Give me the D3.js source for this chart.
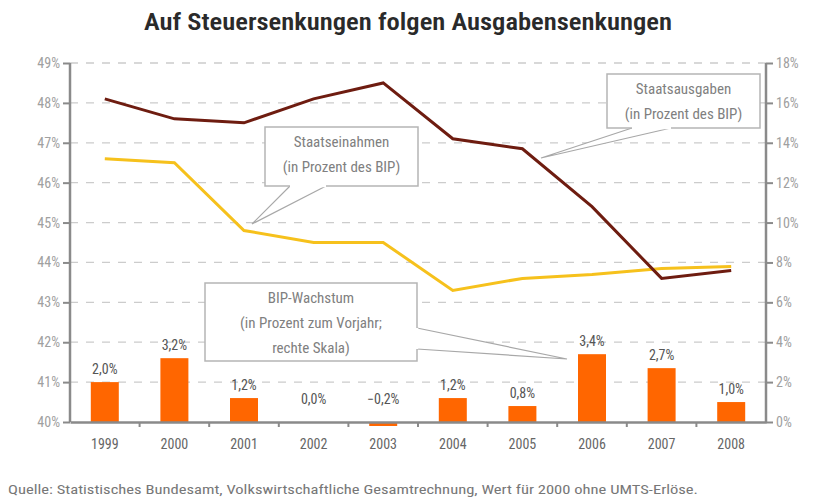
<!DOCTYPE html>
<html>
<head>
<meta charset="utf-8">
<script src="https://cdn.jsdelivr.net/npm/d3@7"></script>
<style>
  body { margin: 0; background: #fff; }
  text { font-family: "Liberation Sans Narrow", "Roboto Condensed", "Open Sans", sans-serif; }
</style>
</head>
<body>
<svg id="chart" width="814" height="501"></svg>
<script>
var years = ["1999", "2000", "2001", "2002", "2003", "2004", "2005", "2006", "2007", "2008"]
var ausgaben = [48.1, 47.6, 47.5, 48.1, 48.5, 47.1, 46.85, 45.4, 43.6, 43.8]
var einnahmen = [46.6, 46.5, 44.8, 44.5, 44.5, 43.3, 43.6, 43.7, 43.85, 43.9]
var wachstum = [2.0, 3.2, 1.2, 0.0, -0.2, 1.2, 0.8, 3.4, 2.7, 1.0]
var leftTicks = [40, 41, 42, 43, 44, 45, 46, 47, 48, 49]
var rightTicks = [0, 2, 4, 6, 8, 10, 12, 14, 16, 18]

var dimensions = {
    width: 814,
    height: 501,
    margin: { top: 63, bottom: 79, left: 70, right: 48 }
}

var svg = d3.select("#chart")

var xScale = d3.scaleBand()
    .domain(years)
    .range([dimensions.margin.left, dimensions.width - dimensions.margin.right])

var yLeft = d3.scaleLinear()
    .domain([40, 49])
    .range([dimensions.height - dimensions.margin.bottom, dimensions.margin.top])

var yRight = d3.scaleLinear()
    .domain([0, 18])
    .range([dimensions.height - dimensions.margin.bottom, dimensions.margin.top])

var fmt = d => d3.format(".1f")(d).replace(".", ",") + "%"

// title
svg.append("text")
    .attr("x", 408)
    .attr("y", 30)
    .attr("text-anchor", "middle")
    .attr("textLength", 528)
    .attr("lengthAdjust", "spacingAndGlyphs")
    .style("font-size", "23px")
    .style("font-weight", "600")
    .attr("fill", "#2a2a2a")
    .text("Auf Steuersenkungen folgen Ausgabensenkungen")

// grid
svg.append("g")
    .selectAll("line")
    .data(leftTicks.slice(1))
    .enter()
    .append("line")
    .attr("x1", dimensions.margin.left)
    .attr("x2", dimensions.width - dimensions.margin.right)
    .attr("y1", d => yLeft(d))
    .attr("y2", d => yLeft(d))
    .attr("stroke", "#cccccc")
    .attr("stroke-width", 1.3)
    .attr("stroke-dasharray", "8,8")

// bars
svg.append("g")
    .selectAll("rect")
    .data(wachstum)
    .enter()
    .append("rect")
    .attr("x", (d, i) => xScale(years[i]) + xScale.bandwidth() / 2 - 14)
    .attr("width", 28)
    .attr("y", d => yRight(Math.max(d, 0)))
    .attr("height", d => Math.abs(yRight(d) - yRight(0)))
    .attr("fill", "#ff6600")

svg.append("g")
    .selectAll("text")
    .data(wachstum)
    .enter()
    .append("text")
    .attr("x", (d, i) => xScale(years[i]) + xScale.bandwidth() / 2)
    .attr("y", d => yRight(Math.max(d, 0.5)) - 8)
    .attr("text-anchor", "middle")
    .style("font-size", "14px")
    .attr("fill", "#555")
    .text(d => fmt(d))

// lines
var lineLeft = d3.line()
    .x((d, i) => xScale(years[i]) + xScale.bandwidth() / 2)
    .y(d => yLeft(d))

svg.append("path")
    .datum(einnahmen)
    .attr("d", lineLeft)
    .attr("fill", "none")
    .attr("stroke", "#f6c11c")
    .attr("stroke-width", 3)

svg.append("path")
    .datum(ausgaben)
    .attr("d", lineLeft)
    .attr("fill", "none")
    .attr("stroke", "#6e1c10")
    .attr("stroke-width", 3)

// axes
var axisColor = "#8a8a8a"
var leftAxis = svg.append("g")
    .attr("transform", "translate(" + dimensions.margin.left + ",0)")
    .call(d3.axisLeft(yLeft).tickValues(leftTicks).tickSize(7).tickFormat(d => d + "%"))
var rightAxis = svg.append("g")
    .attr("transform", "translate(" + (dimensions.width - dimensions.margin.right) + ",0)")
    .call(d3.axisRight(yRight).tickValues(rightTicks).tickSize(7).tickFormat(d => d + "%"))
var bottomAxis = svg.append("g")
    .attr("transform", "translate(0," + yLeft(40) + ")")
    .call(d3.axisBottom(xScale).tickSize(0).tickPadding(17))

;[leftAxis, rightAxis, bottomAxis].forEach(function (a) {
    a.select(".domain").attr("stroke", axisColor).attr("stroke-width", 2.5)
    a.selectAll(".tick line").attr("stroke", axisColor).attr("stroke-width", 2)
    a.selectAll("text").style("font-size", "14px").attr("fill", "#a0a0a0")
})
leftAxis.select(".domain").attr("d", "M0," + yLeft(49) + "V" + yLeft(40))
rightAxis.select(".domain").attr("d", "M0," + yRight(18) + "V" + yRight(0))
bottomAxis.selectAll("text").attr("fill", "#666")

// separator ticks on the x axis
svg.append("g")
    .selectAll("line")
    .data(years.slice(1))
    .enter()
    .append("line")
    .attr("x1", d => xScale(d))
    .attr("x2", d => xScale(d))
    .attr("y1", yLeft(40))
    .attr("y2", yLeft(40) + 5)
    .attr("stroke", axisColor)
    .attr("stroke-width", 2)

// callouts
function callout(box, pointer, lines, lineGap) {
    var g = svg.append("g")
    g.append("path")
        .attr("d", "M" + pointer[0][0] + "," + pointer[0][1] + "L" + pointer[1][0] + "," + pointer[1][1] + "L" + pointer[2][0] + "," + pointer[2][1])
        .attr("fill", "#fff")
        .attr("stroke", "#a8a8a8")
        .attr("stroke-width", 1.2)
    g.append("rect")
        .attr("x", box.x).attr("y", box.y)
        .attr("width", box.w).attr("height", box.h)
        .attr("fill", "#fff")
        .attr("stroke", "#b5b5b5")
        .attr("stroke-width", 1.5)
    // hide the box border where the pointer leaves it
    g.append("path")
        .attr("d", "M" + pointer[0][0] + "," + pointer[0][1] + "L" + pointer[2][0] + "," + pointer[2][1])
        .attr("stroke", "#fff")
        .attr("stroke-width", 2.5)
    g.selectAll("text")
        .data(lines)
        .enter()
        .append("text")
        .attr("x", box.x + box.w / 2)
        .attr("y", (d, i) => box.y + 20 + i * lineGap)
        .attr("text-anchor", "middle")
        .style("font-size", "15px")
        .attr("fill", "#808080")
        .text(d => d)
}

callout({ x: 607, y: 74, w: 153, h: 54 },
    [[632, 128], [541, 158], [671, 128]],
    ["Staatsausgaben", "(in Prozent des BIP)"], 25)

callout({ x: 265, y: 127, w: 153, h: 59 },
    [[290, 186], [252, 224], [326, 186]],
    ["Staatseinahmen", "(in Prozent des BIP)"], 25)

callout({ x: 205, y: 283, w: 212, h: 78 },
    [[417, 328], [567, 359], [417, 349]],
    ["BIP-Wachstum", "(in Prozent zum Vorjahr;", "rechte Skala)"], 25)

// source
svg.append("text")
    .attr("x", 8)
    .attr("y", 494)
    .attr("textLength", 690)
    .attr("lengthAdjust", "spacingAndGlyphs")
    .style("font-size", "13px")
    .attr("fill", "#777")
    .text("Quelle: Statistisches Bundesamt, Volkswirtschaftliche Gesamtrechnung, Wert für 2000 ohne UMTS-Erlöse.")
</script>
</body>
</html>
